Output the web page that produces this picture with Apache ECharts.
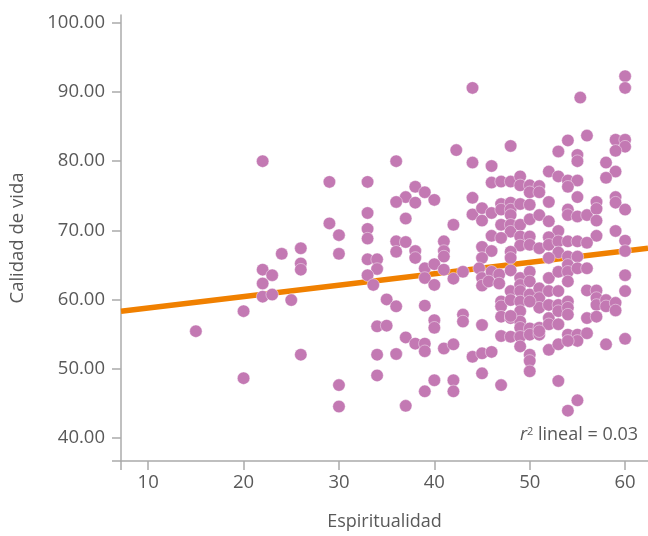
<!DOCTYPE html>
<html>
<head>
<meta charset="utf-8">
<script src="https://cdn.jsdelivr.net/npm/echarts@6/dist/echarts.min.js"></script>
<style>html,body{margin:0;padding:0;background:#fff}#c{width:648px;height:536px}</style>
</head>
<body>
<div id="c"></div>
<script>
// Espiritualidad (x) and Calidad de vida (y) per respondent
const spiritX = [
22,29,33,33,29,30,33,33,24,26,26,26,22,23,22,22,23,25,20,15,26,20,30,30,30,33,34,34,33,33.6,34,34,34,
44,60,60,55.3,56,54,59,60,60,59,48,42.3,53,55,55,36,44,46,58,59,58,52,53,54,55,54,46,47,48,49,49,50,51,50,51,38,39,37,38,36,40,37,44,44,45,45,46,47,47,48,48,49,48,47,48,48,49,50,50,51,52,52,53,54,54,55,55,56,57,57,57,59,59,60,59,57,60,60,42,41,41,41,45,46,46,47,49,50,49,50,51,52,52,53,54,55,56,53,48,48,36,37,36,38,38,45,54,55,
39,39,40,40,41,42,43,44.7,45,45,46,45.7,46.8,46.8,48,48,47,47,47,47,48,48,48,49,49,49,49,49,49,49,49,49,50,50,50,50,50,50,50,50,51,51,51,51,51,52,52,52,52,52,52,52,53,53,53,53,53,53,53,54,54,54,54,54,54,54,55,55,54,55,55,56,56,56,56,57,57,57,57,58,58,59,59,58,60,60,60,35,36,35,36,37,38,39,39,39,40,40,41,42,43,43,45,44,45,46,45,47,40,39,42,42,37,
54,51,48,50
];
const qualityY = [
80,77,77,72.5,71,69.3,70.2,68.8,66.6,67.4,65.2,64.3,64.3,63.5,62.3,60.4,60.7,59.9,58.3,55.4,52.0,48.6,47.6,44.5,66.6,65.8,65.8,64.4,63.5,62.1,56.1,52.0,49.0,
90.6,92.3,90.6,89.2,83.7,83.0,83.1,83.1,82.1,81.5,82.2,81.6,81.4,80.9,80.0,80.0,79.8,79.3,79.8,78.5,77.6,78.5,77.8,77.2,77.2,76.3,76.9,77.05,77.05,77.8,76.5,76.5,76.4,75.5,75.5,76.3,75.5,74.8,74.0,74.1,74.4,71.7,74.7,72.3,73.2,71.4,72.5,73.8,73.0,74.0,73.0,73.8,72.2,70.8,70.8,69.8,70.8,71.6,73.7,72.2,74.1,71.3,69.9,73.0,72.2,74.8,72.0,72.2,74.1,73.1,71.4,74.8,74.0,73.0,69.9,69.2,68.5,67.0,70.8,68.4,67.0,66.2,67.6,67.0,69.2,68.9,69.1,69.1,67.8,67.9,67.4,69.0,67.9,68.4,68.4,68.4,68.2,66.8,66.9,66.0,68.4,68.3,66.9,67.0,66.0,66.0,66.2,66.2,
64.5,63.1,65.1,62.1,64.3,63.0,64.0,64.5,63.1,62.0,64.0,62.6,63.6,62.3,64.2,61.2,59.7,59.0,57.5,54.7,59.9,57.3,54.6,63.1,62.1,61.2,59.7,58.3,56.8,55.9,54.6,53.2,64.0,62.6,60.7,55.8,54.9,52.0,51.1,49.6,61.6,60.2,58.8,55.9,54.9,66.0,63.1,61.2,59.2,57.3,56.4,52.7,64.0,61.2,59.2,58.3,56.4,53.5,48.2,65.0,64.0,62.6,59.7,58.8,57.8,54.9,54.9,54.0,43.9,45.4,64.5,64.5,61.3,57.3,55.1,61.3,60.2,59.2,57.5,59.9,59.0,59.5,58.4,53.5,63.5,61.2,54.3,60.0,59.0,56.2,52.1,54.5,53.6,53.6,52.5,59.1,57.0,55.9,52.9,53.5,57.8,56.8,56.3,51.7,52.2,52.4,49.3,47.6,48.3,46.7,48.3,46.7,44.6,
54.0,55.4,57.6,59.7
];
// Linear fit line endpoints
const fitX = [7.15, 62.4];
const fitY = [58.3, 67.4];
// Tick labels
const xTicks = [10, 20, 30, 40, 50, 60];
const yTicks = [40, 50, 60, 70, 80, 90, 100];
const xMin = 7.15, xMax = 62.4, yMin = 36.62, yMax = 101.15;

const points = spiritX.map((x, i) => [x, qualityY[i]]);
const fitLine = fitX.map((x, i) => [x, fitY[i]]);

const txt = '#595959';
const axisCol = '#ABABAB';
const font = 'Open Sans';

const chart = echarts.init(document.getElementById('c'), null, {renderer: 'canvas'});
chart.setOption({
  animation: false,
  backgroundColor: '#ffffff',
  textStyle: {fontFamily: font},
  grid: {left: 120.5, right: 0, top: 15, bottom: 72, containLabel: false},
  xAxis: {
    type: 'value', min: xMin, max: xMax,
    name: 'Espiritualidad', nameLocation: 'middle', nameGap: 52,
    nameTextStyle: {color: txt, fontSize: 18, fontFamily: font},
    axisLine: {show: true, lineStyle: {color: axisCol, width: 1.5}},
    axisTick: {show: true, length: 9, lineStyle: {color: axisCol, width: 1.5}, customValues: [xMin].concat(xTicks)},
    axisLabel: {color: txt, fontSize: 18.5, fontFamily: font, margin: 12, customValues: xTicks},
    splitLine: {show: false}
  },
  yAxis: {
    type: 'value', min: yMin, max: yMax,
    name: 'Calidad de vida', nameLocation: 'middle', nameGap: 94,
    nameTextStyle: {color: txt, fontSize: 18.5, fontFamily: font},
    axisLine: {show: true, lineStyle: {color: axisCol, width: 1.5}},
    axisTick: {show: true, length: 9, lineStyle: {color: axisCol, width: 1.5}, customValues: [yMin].concat(yTicks)},
    axisLabel: {color: txt, fontSize: 18.5, fontFamily: font, margin: 16, customValues: yTicks,
      formatter: v => v.toFixed(2)},
    splitLine: {show: false}
  },
  series: [
    {
      type: 'line', data: fitLine, symbol: 'none', z: 2,
      lineStyle: {color: '#F08000', width: 5.5}
    },
    {
      type: 'scatter', data: points, symbolSize: 12.5, z: 3,
      itemStyle: {color: '#C379B3', opacity: 1, borderColor: 'rgba(255,255,255,0.7)', borderWidth: 0.6}
    }
  ],
  graphic: [{
    type: 'text', right: 10, top: 426,
    style: {
      text: '{i|r}{s|2}{n| lineal = 0.03}',
      rich: {
        i: {fontStyle: 'italic', fontSize: 18, fill: txt, fontFamily: font},
        s: {fontSize: 11, fill: txt, fontFamily: font, verticalAlign: 'top', padding: [0, 0, 6, 0]},
        n: {fontSize: 18, fill: txt, fontFamily: font}
      }
    }
  }]
});
</script>
</body>
</html>
